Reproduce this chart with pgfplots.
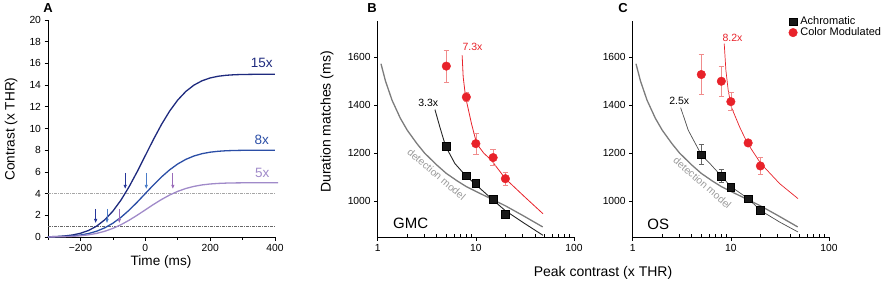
\documentclass[border=0pt]{standalone}
\usepackage{fontspec}
\setmainfont{Liberation Sans}
\usepackage{pgfplots}
\pgfplotsset{compat=1.18}
\usetikzlibrary{arrows.meta}
\definecolor{navy}{HTML}{1E2A7E}
\definecolor{mblue}{HTML}{2B4EA6}
\definecolor{lav}{HTML}{A08AC9}
\definecolor{arrnavy}{HTML}{27379A}
\definecolor{arrblue}{HTML}{4A7CC8}
\definecolor{arrpur}{HTML}{9A6CBA}
\definecolor{cred}{HTML}{E8222A}
\definecolor{ered}{HTML}{F08C8C}
\definecolor{detgray}{HTML}{7C7C7C}
\definecolor{lblgray}{HTML}{9A9A9A}
\pgfplotsset{
  base/.style={
    scale only axis,
    anchor=south west,
    axis x line*=bottom, axis y line*=left,
    axis line style={line width=0.8pt, black},
    tick style={black, line width=0.7pt},
    tick align=outside,
    major tick length=3.5pt,
    minor tick length=2.5pt,
    tick label style={font=\fontsize{10.3pt}{12pt}\selectfont},
    /pgf/number format/assume math mode=true,
    clip=false,
  },
  logax/.style={
    base,
    width=196.3pt, height=216pt,
    xmin=1, xmax=100, ymin=850, ymax=1750,
    xtick={1,10,100}, xticklabels={1,10,100},
    minor xtick={2,3,4,5,6,7,8,9,20,30,40,50,60,70,80,90},
    minor tick length=-3pt,
    ytick={1000,1200,1400,1600},
    yticklabels={1000,1200,1400,1600},
  },
  redpts/.style={only marks, mark=*, mark size=4.3pt, color=cred, mark options={draw=cred, fill=cred},
    error bars/.cd, y dir=both, y explicit,
    error bar style={ered, line width=0.7pt},
    error mark options={rotate=90, mark size=2.8pt, ered, line width=0.7pt}},
  blkpts/.style={only marks, mark=square*, mark size=3.8pt, color=black, mark options={draw=black, fill=black!90},
    error bars/.cd, y dir=both, y explicit,
    error bar style={black!60, line width=0.7pt},
    error mark options={rotate=90, mark size=2.8pt, black!60, line width=0.7pt}},
}
\begin{document}
\begin{tikzpicture}
\useasboundingbox (0pt,0pt) rectangle (892pt,282pt);

% ---------------- Panel A ----------------
\begin{axis}[base, at={(48pt,45pt)}, width=227pt, height=217pt,
  xmin=-300, xmax=400, ymin=0, ymax=20,
  xtick={-200,0,200,400}, xticklabels={−200,0,200,400},
  minor xtick={-300,-100,100,300},
  ytick={0,2,...,20}]
\addplot[gray!70, line width=0.5pt, dash pattern=on 3pt off 1.2pt on 0.6pt off 1.2pt] coordinates {(-300,4) (400,4)};
\addplot[black!60, line width=0.6pt, dash pattern=on 3pt off 1.2pt on 0.6pt off 1.2pt] coordinates {(-300,1) (400,1)};
\addplot[navy, line width=1.3pt] coordinates {(-300,0.02) (-275,0.045) (-250,0.093) (-225,0.183) (-200,0.341) (-175,0.601) (-150,1.002) (-125,1.585) (-100,2.380) (-75,3.399) (-50,4.628) (-25,6.019) (0,7.5) (25,8.981) (50,10.372) (75,11.601) (100,12.620) (125,13.415) (150,13.998) (175,14.399) (200,14.659) (225,14.817) (250,14.907) (275,14.955) (300,14.980) (350,14.998) (400,15)};
\addplot[mblue, line width=1.3pt] coordinates {(-300,0.011) (-275,0.024) (-250,0.050) (-225,0.098) (-200,0.182) (-175,0.320) (-150,0.534) (-125,0.845) (-100,1.269) (-75,1.813) (-50,2.468) (-25,3.210) (0,4.0) (25,4.790) (50,5.532) (75,6.187) (100,6.731) (125,7.155) (150,7.466) (175,7.680) (200,7.818) (225,7.902) (250,7.950) (275,7.976) (300,7.989) (350,8) (400,8)};
\addplot[lav, line width=1.3pt] coordinates {(-300,0.007) (-275,0.015) (-250,0.031) (-225,0.061) (-200,0.114) (-175,0.200) (-150,0.334) (-125,0.528) (-100,0.793) (-75,1.133) (-50,1.543) (-25,2.006) (0,2.5) (25,2.994) (50,3.457) (75,3.867) (100,4.207) (125,4.472) (150,4.666) (175,4.800) (200,4.886) (225,4.939) (250,4.969) (275,4.985) (300,4.993) (350,5) (410,5)};
\addplot[arrnavy, line width=0.9pt, -{Latex[length=4.5pt,width=3.6pt]}] coordinates {(-62,5.9) (-62,4.4)};
\addplot[arrblue, line width=0.9pt, -{Latex[length=4.5pt,width=3.6pt]}] coordinates {(3,5.9) (3,4.4)};
\addplot[arrpur, line width=0.9pt, -{Latex[length=4.5pt,width=3.6pt]}] coordinates {(85,5.9) (85,4.4)};
\addplot[arrnavy, line width=0.9pt, -{Latex[length=4.5pt,width=3.6pt]}] coordinates {(-153,2.6) (-153,1.25)};
\addplot[arrblue, line width=0.9pt, -{Latex[length=4.5pt,width=3.6pt]}] coordinates {(-118,2.6) (-118,1.25)};
\addplot[arrpur, line width=0.9pt, -{Latex[length=4.5pt,width=3.6pt]}] coordinates {(-80,2.6) (-80,1.25)};
\node[navy, font=\fontsize{13.5pt}{15pt}\selectfont] at (axis cs:359,16.0) {15x};
\node[mblue, font=\fontsize{13.5pt}{15pt}\selectfont] at (axis cs:359,8.95) {8x};
\node[lav, font=\fontsize{13.5pt}{15pt}\selectfont] at (axis cs:361,5.9) {5x};
\end{axis}

% ---------------- Panel B ----------------
\begin{semilogxaxis}[logax, at={(377.7pt,45pt)}]
\addplot[detgray, line width=1.3pt] coordinates {(1.08,1572) (1.2,1500) (1.4,1420) (1.7,1345) (2.0,1295) (2.5,1240) (3.0,1200) (4.0,1150) (5.0,1115) (6.5,1083) (8.0,1060) (10,1040) (15,1005) (20,980) (30,940) (48,892)};
\addplot[black!85, line width=0.9pt] coordinates {(3.83,1381) (4.3,1308) (4.92,1228) (6.12,1156) (7.86,1106) (9.77,1072) (14.4,1010) (19.8,961) (31.5,906) (48.3,857)};
\addplot[cred, line width=0.8pt] coordinates {(7.25,1607) (7.43,1517) (7.86,1433) (9.03,1322) (10.2,1239) (12,1200) (14.4,1170) (20.0,1093) (31.5,1017) (48.3,947)};
\addplot[blkpts] coordinates {(5,1228) +- (0,14) (8,1106) +- (0,8) (10,1075) +- (0,6) (15,1007) +- (0,6) (20,945) +- (0,5)};
\addplot[redpts] coordinates {(5,1562) +- (0,66) (8,1433) +- (0,18) (10,1239) +- (0,44) (15,1181) +- (0,33) (20,1093) +- (0,28)};
\node[font=\fontsize{15pt}{17pt}\selectfont] at (axis cs:2.17,906) {GMC};
\node[font=\fontsize{10.5pt}{12pt}\selectfont] at (axis cs:3.27,1408) {3.3x};
\node[cred, font=\fontsize{10.5pt}{12pt}\selectfont] at (axis cs:9.26,1642) {7.3x};
\node[lblgray, rotate=-40.5, font=\fontsize{10.3pt}{12pt}\selectfont] at (axis cs:3.98,1111) {detection model};
\end{semilogxaxis}

% ---------------- Panel C ----------------
\begin{semilogxaxis}[logax, at={(632.7pt,45pt)},
  legend style={at={(0.794,1.02)}, anchor=north west, draw=none, fill=none,
    font=\fontsize{11pt}{13pt}\selectfont, inner sep=0pt, row sep=1.5pt,
    nodes={inner sep=0pt, inner xsep=3pt}},
  legend cell align=left]
\addplot[detgray, line width=1.3pt, forget plot] coordinates {(1.08,1572) (1.2,1500) (1.4,1420) (1.7,1345) (2.0,1295) (2.5,1240) (3.0,1200) (4.0,1150) (5.0,1115) (6.5,1083) (8.0,1060) (10,1040) (15,1005) (20,980) (30,940) (48,892)};
\addplot[black!70, line width=0.7pt, forget plot] coordinates {(3.08,1389) (3.68,1295) (5,1193) (6.12,1156) (8,1104) (10,1060) (15,1010) (20,961) (31.5,912) (48.3,871)};
\addplot[cred, line width=0.7pt, forget plot] coordinates {(8.56,1656) (8.9,1545) (9.4,1461) (10.1,1392) (12.3,1308) (14.7,1242) (20.2,1156) (31.5,1072) (48.3,1010)};
\addplot[blkpts] coordinates {(5,1193) +- (0,42) (8,1104) +- (0,28) (10,1058) +- (0,8) (15,1010) +- (0,6) (20,961) +- (0,6)};
\addlegendentry{Achromatic}
\addplot[redpts] coordinates {(5,1527) +- (0,83) (8,1499) +- (0,64) (10,1414) +- (0,37) (15,1242) +- (0,10) (20,1146) +- (0,37)};
\addlegendentry{Color Modulated}
\node[font=\fontsize{15pt}{17pt}\selectfont] at (axis cs:1.82,903) {OS};
\node[font=\fontsize{10.5pt}{12pt}\selectfont] at (axis cs:2.98,1417) {2.5x};
\node[cred, font=\fontsize{10.5pt}{12pt}\selectfont] at (axis cs:10.4,1681) {8.2x};
\node[lblgray, rotate=-41, font=\fontsize{10.3pt}{12pt}\selectfont] at (axis cs:5.13,1076) {detection model};
\end{semilogxaxis}

% ---------------- labels ----------------
\node[font=\fontsize{13.6pt}{15pt}\selectfont] at (161pt,20pt) {Time (ms)};
\node[rotate=90, font=\fontsize{13.6pt}{15pt}\selectfont] at (11pt,153pt) {Contrast (x THR)};
\node[rotate=90, font=\fontsize{14pt}{16pt}\selectfont] at (327pt,160pt) {Duration matches (ms)};
\node[font=\fontsize{14pt}{16pt}\selectfont] at (603pt,9pt) {Peak contrast (x THR)};
\node[font=\bfseries\fontsize{13pt}{15pt}\selectfont] at (48pt,274pt) {A};
\node[font=\bfseries\fontsize{13pt}{15pt}\selectfont] at (372pt,274pt) {B};
\node[font=\bfseries\fontsize{13pt}{15pt}\selectfont] at (623pt,274pt) {C};
\end{tikzpicture}
\end{document}
